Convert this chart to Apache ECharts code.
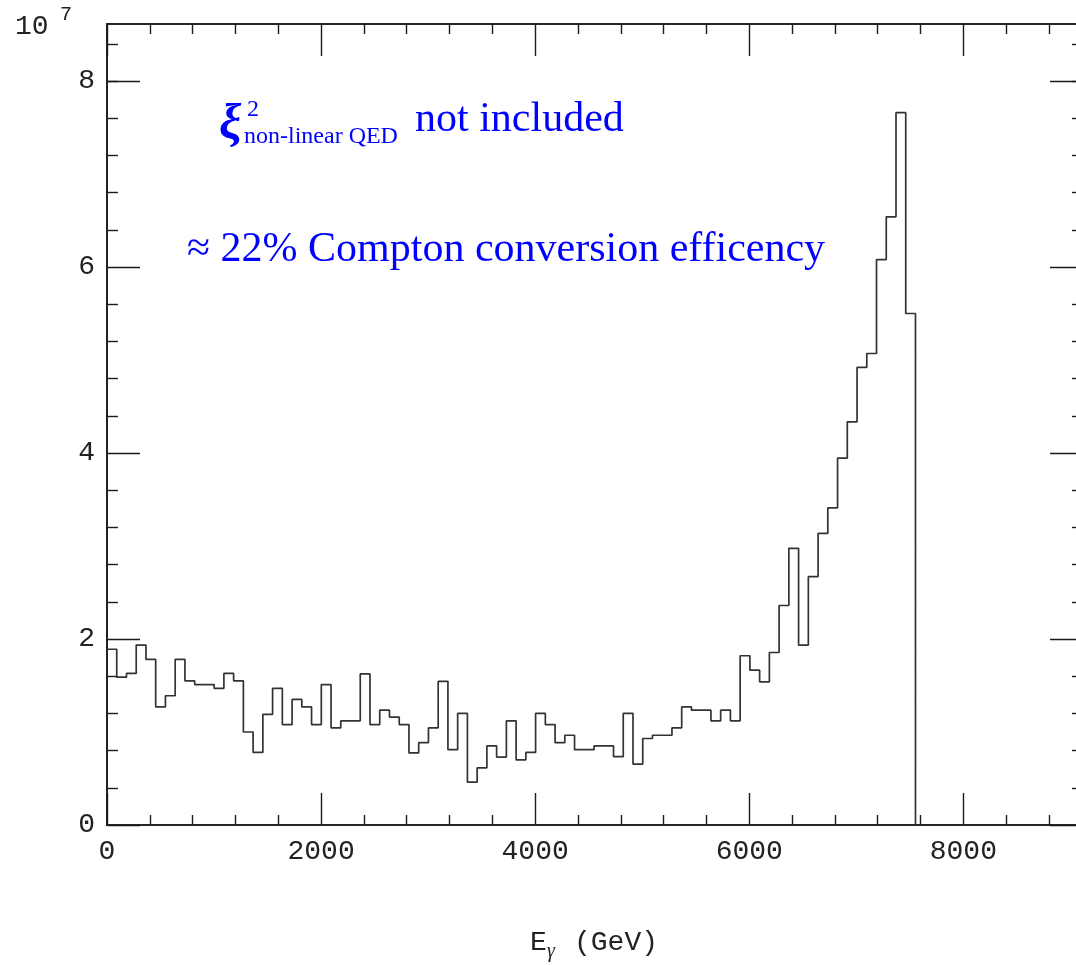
<!DOCTYPE html>
<html>
<head>
<meta charset="utf-8">
<script src="https://cdn.jsdelivr.net/npm/echarts@6/dist/echarts.min.js"></script>
<style>
html,body{margin:0;padding:0;background:#fff;}
#chart{width:1076px;height:965px;}
</style>
</head>
<body>
<div id="chart"></div>
<script>
// Histogram: photon energy spectrum, bin width in GeV, counts in units of 10^7
const binWidth = 91;
const counts = [
  1.89, 1.59, 1.63, 1.935, 1.78, 1.27, 1.39, 1.78, 1.55, 1.51,
  1.51, 1.47, 1.63, 1.55, 1.00, 0.78, 1.19, 1.47, 1.08, 1.35,
  1.27, 1.08, 1.51, 1.045, 1.12, 1.12, 1.625, 1.08, 1.235, 1.16,
  1.08, 0.775, 0.885, 1.045, 1.545, 0.81, 1.20, 0.46, 0.615, 0.85,
  0.73, 1.12, 0.70, 0.78, 1.20, 1.08, 0.885, 0.965, 0.81, 0.81,
  0.85, 0.85, 0.735, 1.20, 0.655, 0.93, 0.965, 0.965, 1.045, 1.27,
  1.235, 1.235, 1.12, 1.235, 1.12, 1.82, 1.665, 1.54, 1.855, 2.36,
  2.975, 1.935, 2.67, 3.135, 3.41, 3.945, 4.335, 4.92, 5.07, 6.08,
  6.54, 7.66, 5.50
];
const xMajor = [0, 2000, 4000, 6000, 8000];
const xMinor = [400, 800, 1200, 1600, 2400, 2800, 3200, 3600, 4400, 4800, 5200, 5600, 6400, 6800, 7200, 7600, 8400, 8800];
const yMajor = [0, 2, 4, 6, 8];
const yMinor = [0.4, 0.8, 1.2, 1.6, 2.4, 2.8, 3.2, 3.6, 4.4, 4.8, 5.2, 5.6, 6.4, 6.8, 7.2, 7.6, 8.0, 8.4];
const xTitle = ['E', 'γ', '(GeV)'];
const yMultiplier = ['10', '7'];
const note1 = ['ξ', '2', 'non-linear QED', 'not included'];
const note2 = '≈ 22% Compton conversion efficency';

const X_MAX = 9118, Y_MAX = 8.613;
const monoFont = '"Liberation Mono", "DejaVu Sans Mono", monospace';
const serif = '"Liberation Serif", "DejaVu Serif", serif';
const blue = '#0000ff';
const axisCol = '#1a1a1a';

const stepData = counts.map((v, i) => [i * binWidth, v]);
stepData.push([counts.length * binWidth, 0]);

function plain(v) { return String(Math.round(v)); }

function xAx(pos, ticks, len, labels) {
  return {
    type: 'value', position: pos, min: 0, max: X_MAX,
    axisLine: { show: true, onZero: false, lineStyle: { color: axisCol, width: 1.6 } },
    axisTick: { show: true, inside: true, length: len, customValues: ticks, lineStyle: { color: axisCol, width: 1.4 } },
    axisLabel: labels ? { show: true, customValues: xMajor, formatter: plain, margin: 13, color: '#222', fontFamily: monoFont, fontSize: 28 } : { show: false },
    splitLine: { show: false }, minorTick: { show: false }
  };
}
function yAx(pos, ticks, len, labels) {
  return {
    type: 'value', position: pos, min: 0, max: Y_MAX,
    axisLine: { show: true, onZero: false, lineStyle: { color: axisCol, width: 1.6 } },
    axisTick: { show: true, inside: true, length: len, customValues: ticks, lineStyle: { color: axisCol, width: 1.4 } },
    axisLabel: labels ? { show: true, customValues: yMajor, formatter: plain, margin: 12, color: '#222', fontFamily: monoFont, fontSize: 28 } : { show: false },
    splitLine: { show: false }, minorTick: { show: false }
  };
}

const chart = echarts.init(document.getElementById('chart'), null, { renderer: 'canvas' });
chart.setOption({
  animation: false,
  backgroundColor: '#ffffff',
  grid: { left: 107, top: 24, width: 976, height: 801, containLabel: false, outerBoundsMode: 'none' },
  xAxis: [
    xAx('bottom', xMajor, 32, true),
    xAx('bottom', xMinor, 10, false),
    xAx('top', xMajor, 32, false),
    xAx('top', xMinor, 10, false)
  ],
  yAxis: [
    yAx('left', yMajor, 33, true),
    yAx('left', yMinor, 11, false),
    yAx('right', yMajor, 33, false),
    yAx('right', yMinor, 11, false)
  ],
  series: [{
    type: 'line', step: 'end', data: stepData, xAxisIndex: 0, yAxisIndex: 0,
    showSymbol: false, symbol: 'none',
    lineStyle: { color: '#333', width: 1.7 }
  }],
  graphic: [
    { type: 'text', x: 15, y: 27, style: { text: yMultiplier[0], font: '28px ' + monoFont, fill: '#222', verticalAlign: 'middle' } },
    { type: 'text', x: 60, y: 15, style: { text: yMultiplier[1], font: '20px ' + monoFont, fill: '#222', verticalAlign: 'middle' } },
    { type: 'text', x: 530, y: 943, style: { text: xTitle[0], font: '28px ' + monoFont, fill: '#222', verticalAlign: 'middle' } },
    { type: 'text', x: 547, y: 952, style: { text: xTitle[1], font: 'italic 20px ' + serif, fill: '#222', verticalAlign: 'middle' } },
    { type: 'text', x: 574, y: 943, style: { text: xTitle[2], font: '28px ' + monoFont, fill: '#222', verticalAlign: 'middle' } },
    { type: 'text', x: 219, y: 126, style: { text: note1[0], font: 'italic bold 50px ' + serif, fill: blue, verticalAlign: 'middle' } },
    { type: 'text', x: 247, y: 110, style: { text: note1[1], font: '24px ' + serif, fill: blue, verticalAlign: 'middle' } },
    { type: 'text', x: 244, y: 137, style: { text: note1[2], font: '24px ' + serif, fill: blue, verticalAlign: 'middle' } },
    { type: 'text', x: 415, y: 120, style: { text: note1[3], font: '42px ' + serif, fill: blue, verticalAlign: 'middle' } },
    { type: 'text', x: 187, y: 250, style: { text: note2, font: '42px ' + serif, fill: blue, verticalAlign: 'middle' } }
  ]
});
</script>
</body>
</html>
